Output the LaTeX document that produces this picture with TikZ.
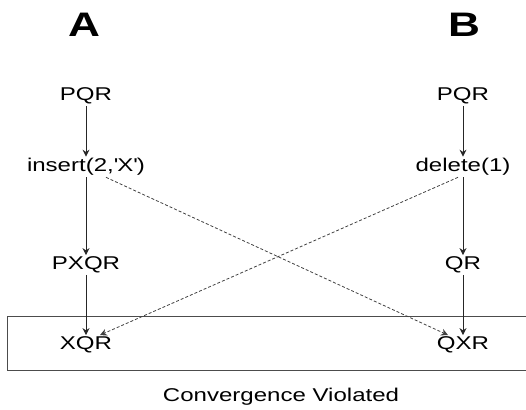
\documentclass[tikz,border=0pt]{standalone}
\usepackage{fontspec}
\setmainfont{Liberation Sans}[FakeStretch=1.3]
\usetikzlibrary{arrows.meta,calc}
\begin{document}
\begin{tikzpicture}[x=1pt,y=-1pt,
  lbl/.style={inner sep=1.5pt, font=\fontsize{18.5}{20}\selectfont},
  ttl/.style={inner sep=0pt, font=\fontsize{34}{36}\selectfont\bfseries},
  solidarrow/.style={draw=black!85, line width=0.9pt, -{Stealth[length=7pt,width=7pt]}},
  dasharrow/.style={draw=black!75, line width=0.8pt, dash pattern=on 3pt off 2pt, -{Stealth[length=7pt,width=7pt]}},
  frame/.style={draw=black!70, line width=1pt}]
\useasboundingbox (0,0) rectangle (526,409);
\node[ttl] (ta) at (84,25) {A};
\node[ttl] (tb) at (464,25) {B};
\node[lbl] (pqra) at (86,96) {PQR};
\node[lbl] (ins) at (86,167) {insert(2,\textquotesingle X\textquotesingle)};
\node[lbl] (pxqr) at (86,265) {PXQR};
\node[lbl] (xqr) at (86,345) {XQR};
\node[lbl] (pqrb) at (463,96) {PQR};
\node[lbl] (del) at (463,167) {delete(1)};
\node[lbl] (qr) at (463,265) {QR};
\node[lbl] (qxr) at (463,345) {QXR};
\node[lbl] (cv) at (281,397) {Convergence Violated};
\coordinate (fr1) at (527,316);
\coordinate (fr2) at (7,316);
\coordinate (fr3) at (7,370);
\coordinate (fr4) at (527,370);
\draw[frame] (fr1) -- (fr2) -- (fr3) -- (fr4);
\draw[solidarrow] (pqra) -- (ins);
\draw[solidarrow] (ins) -- (pxqr);
\draw[solidarrow] (pxqr) -- (xqr);
\draw[solidarrow] (pqrb) -- (del);
\draw[solidarrow] (del) -- (qr);
\draw[solidarrow] (qr) -- (qxr);
\draw[dasharrow] ([xshift=20pt]ins.south) -- ([xshift=-15pt]qxr.north);
\draw[dasharrow] ([xshift=-5pt]del.south) -- ([xshift=14pt]xqr.north);
\end{tikzpicture}
\end{document}
